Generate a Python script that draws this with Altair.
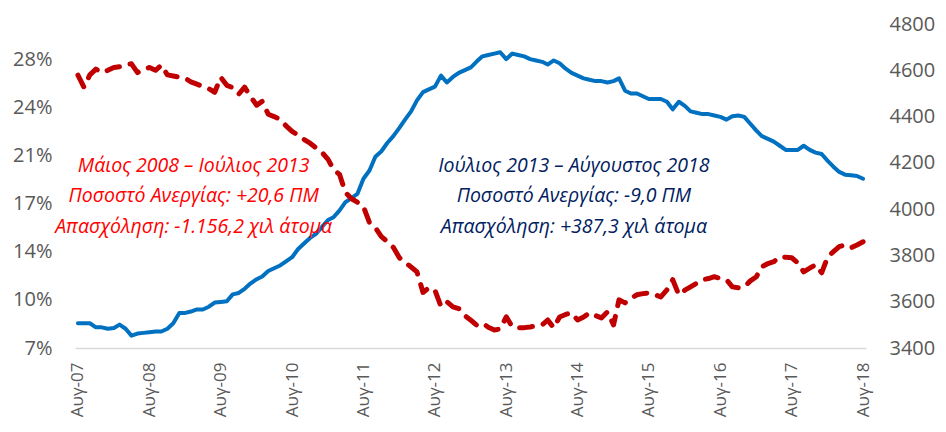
import altair as alt
import pandas as pd

# Monthly dates Aug 2007 - Aug 2018
dates = pd.date_range("2007-08-01", "2018-08-01", freq="MS").strftime("%Y-%m-%d").tolist()

# Unemployment rate (%), left axis
unemployment = [
    8.8, 8.8, 8.8, 8.5, 8.5, 8.4, 8.45, 8.7, 8.4, 7.9, 8.05, 8.1,
    8.15, 8.2, 8.2, 8.4, 8.8, 9.55, 9.55, 9.65, 9.8, 9.8, 10.0, 10.3,
    10.35, 10.4, 10.9, 11.0, 11.3, 11.7, 12.0, 12.2, 12.6, 12.8, 13.0, 13.3,
    13.6, 14.2, 14.6, 15.0, 15.3, 15.8, 16.3, 16.5, 17.0, 17.6, 17.9, 18.2,
    19.3, 19.9, 20.9, 21.3, 21.9, 22.4, 23.0, 23.6, 24.2, 25.0, 25.6, 25.8,
    26.0, 26.8, 26.3, 26.7, 27.0, 27.2, 27.4, 27.8, 28.2, 28.3, 28.4, 28.5,
    28.0, 28.4, 28.3, 28.2, 28.0, 27.9, 27.8, 27.6, 27.9, 27.7, 27.3, 27.0,
    26.8, 26.6, 26.5, 26.4, 26.4, 26.3, 26.4, 26.6, 25.7, 25.5, 25.5, 25.3,
    25.1, 25.1, 25.1, 24.9, 24.35, 24.9, 24.6, 24.2, 24.1, 24.0, 24.0, 23.9,
    23.8, 23.6, 23.85, 23.9, 23.8, 23.3, 22.8, 22.4, 22.2, 22.0, 21.7, 21.4,
    21.4, 21.4, 21.7, 21.4, 21.2, 21.1, 20.6, 20.2, 19.8, 19.6, 19.55, 19.5,
    19.3,
]

# Employment (thousands), right axis
employment = [
    4579, 4527, 4580, 4605, 4590, 4600, 4612, 4615, 4625, 4628, 4590, 4605,
    4612, 4600, 4622, 4580, 4575, 4570, 4565, 4550, 4540, 4530, 4520, 4505,
    4570, 4535, 4525, 4497, 4527, 4485, 4449, 4466, 4410, 4400, 4388, 4360,
    4336, 4320, 4301, 4285, 4265, 4245, 4215, 4171, 4150, 4072, 4045, 4030,
    4011, 3942, 3920, 3881, 3860, 3835, 3790, 3770, 3750, 3729, 3640, 3660,
    3650, 3580, 3600, 3578, 3570, 3540, 3520, 3500, 3508, 3490, 3478, 3482,
    3535, 3491, 3487, 3488, 3491, 3495, 3500, 3521, 3487, 3534, 3545, 3552,
    3521, 3534, 3552, 3540, 3530, 3556, 3500, 3608, 3595, 3615, 3630, 3635,
    3638, 3630, 3621, 3651, 3695, 3630, 3650, 3664, 3680, 3695, 3700, 3708,
    3700, 3695, 3664, 3660, 3664, 3690, 3708, 3751, 3765, 3773, 3794, 3792,
    3790, 3768, 3729, 3745, 3760, 3725, 3794, 3815, 3838, 3845, 3833, 3845,
    3859,
]

left_ticks = [7, 10.5, 14, 17.5, 21, 24.5, 28]
right_ticks = [3400, 3600, 3800, 4000, 4200, 4400, 4600, 4800]
tick_years = list(range(2007, 2019))

red_lines = [
    "Μάιος 2008 – Ιούλιος 2013",
    "Ποσοστό Ανεργίας: +20,6 ΠΜ",
    "Απασχόληση: -1.156,2 χιλ άτομα",
]
blue_lines = [
    "Ιούλιος 2013 – Αύγουστος 2018",
    "Ποσοστό Ανεργίας: -9,0 ΠΜ",
    "Απασχόληση: +387,3 χιλ άτομα",
]

df = pd.DataFrame({"date": dates, "rate": unemployment, "emp": employment})

text_rows = [20.25, 18.03, 15.8]
ann_red = pd.DataFrame({"date": ["2009-03-15"] * 3, "rate": text_rows, "txt": red_lines})
ann_blue = pd.DataFrame({"date": ["2014-07-13"] * 3, "rate": text_rows, "txt": blue_lines})

FONT = "Open Sans"
LABEL_COLOR = "#595959"

x_scale = alt.Scale(
    type="utc",
    domain=[
        alt.DateTime(year=2007, month=7, date=17, utc=True),
        alt.DateTime(year=2018, month=8, date=16, utc=True),
    ],
)
x_axis = alt.Axis(
    values=[alt.DateTime(year=y, month=8, date=1, utc=True) for y in tick_years],
    labelExpr="'Αυγ-' + utcFormat(datum.value, '%y')",
    labelAngle=-90,
    labelAlign="right",
    labelBaseline="middle",
    labelPadding=14,
    labelFontSize=17,
    labelFont=FONT,
    labelColor=LABEL_COLOR,
    ticks=False,
    tickSize=0,
    grid=False,
    domainColor="#D9D9D9",
    domainWidth=1.5,
    title=None,
)
x_enc = alt.X("date:T", scale=x_scale, axis=x_axis)

left_scale = alt.Scale(domain=[7, 30.55], nice=False, zero=False)
right_scale = alt.Scale(domain=[3400, 4800], nice=False, zero=False)

blue = alt.Chart(df).mark_line(color="#0070C0", strokeWidth=4, strokeJoin="round", strokeCap="round").encode(
    x=x_enc,
    y=alt.Y(
        "rate:Q",
        scale=left_scale,
        axis=alt.Axis(
            orient="left",
            values=left_ticks,
            labelExpr="floor(datum.value) + '%'",
            labelPadding=23,
            labelFontSize=20,
            labelFont=FONT,
            labelColor=LABEL_COLOR,
            ticks=False,
            domain=False,
            grid=False,
            title=None,
        ),
    ),
)

red = alt.Chart(df).mark_line(
    color="#C00000", strokeWidth=5, strokeDash=[13, 11], strokeCap="round", strokeJoin="round"
).encode(
    x=x_enc,
    y=alt.Y(
        "emp:Q",
        scale=right_scale,
        axis=alt.Axis(
            orient="right",
            values=right_ticks,
            format="d",
            labelPadding=23,
            labelFontSize=20,
            labelFont=FONT,
            labelColor=LABEL_COLOR,
            ticks=False,
            domain=False,
            grid=False,
            title=None,
        ),
    ),
)

text_red = alt.Chart(ann_red).mark_text(
    font=FONT, fontSize=19.5, fontStyle="italic", color="#FF0000", align="center", baseline="middle"
).encode(x=x_enc, y=alt.Y("rate:Q", scale=left_scale, axis=None), text="txt:N")

text_blue = alt.Chart(ann_blue).mark_text(
    font=FONT, fontSize=19.5, fontStyle="italic", color="#002060", align="center", baseline="middle"
).encode(x=x_enc, y=alt.Y("rate:Q", scale=left_scale, axis=None), text="txt:N")

chart = (
    alt.layer(blue, red, text_red, text_blue)
    .resolve_scale(y="independent")
    .properties(
        width=791,
        height=324,
        autosize=alt.AutoSizeParams(type="none"),
        padding={"left": 67, "top": 16, "right": 72, "bottom": 74},
        background="white",
    )
    .configure_view(stroke=None)
)

chart.save("out.html", embed_options={"renderer": "svg", "actions": False})
